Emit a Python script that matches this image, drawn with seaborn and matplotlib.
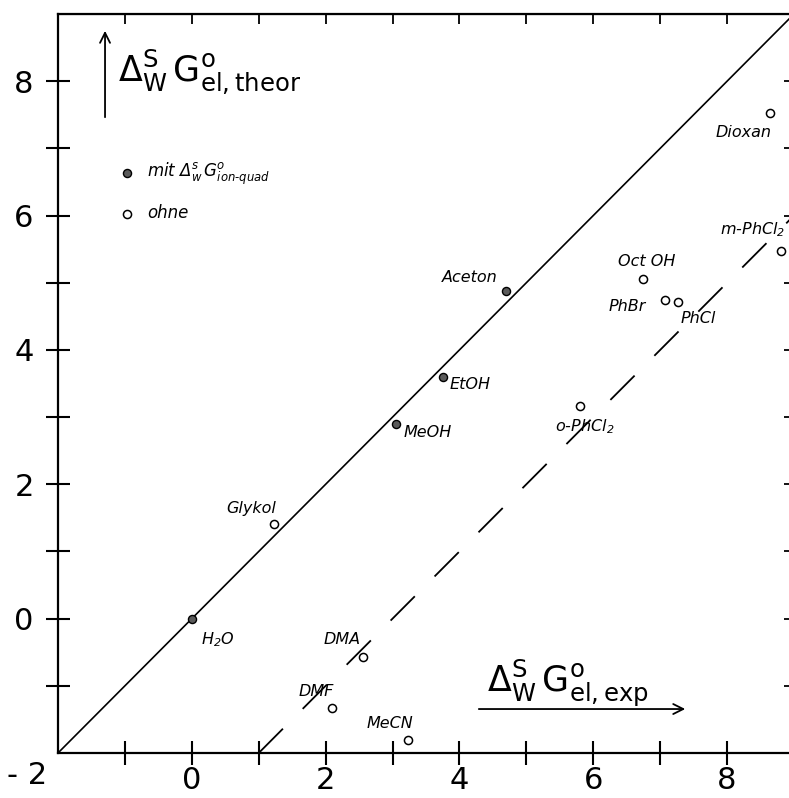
import numpy as np
import pandas as pd
import seaborn as sns
import matplotlib.pyplot as plt
from matplotlib.ticker import MultipleLocator, FixedLocator

# solvents and free energies (kJ/mol)
solvents = ["H$_2$O", "MeOH", "EtOH", "Aceton", "Glykol", "DMA", "DMF", "MeCN",
            "Dioxan", "Oct OH", "PhBr", "PhCl", "o-PhCl$_2$", "m-PhCl$_2$"]
g_exp = [0.0, 3.05, 3.75, 4.70, 1.23, 2.56, 2.10, 3.23,
         8.64, 6.74, 7.07, 7.27, 5.80, 8.81]
g_theor = [0.0, 2.89, 3.59, 4.87, 1.41, -0.57, -1.33, -1.81,
           7.52, 5.06, 4.75, 4.72, 3.16, 5.47]
group = ["mit"] * 4 + ["ohne"] * 10

# reference lines: ideal y = x and shifted y = x - 3
line_x = [-2, 9]
dash_x = [1, 9]
shift = 3

df = pd.DataFrame({"name": solvents, "exp": g_exp, "theor": g_theor, "group": group})

sns.set_style("ticks")
plt.rcParams["font.family"] = ["DejaVu Sans"]
plt.rcParams["mathtext.default"] = "regular"
plt.rcParams["text.color"] = "black"
plt.rcParams["xtick.color"] = "black"
plt.rcParams["ytick.color"] = "black"

fig = plt.figure(figsize=(7.89, 7.98), dpi=100)
ax = fig.add_axes([58 / 789, 45 / 798, 736 / 789, 739 / 798])

ax.plot(line_x, line_x, color="black", lw=1.2)
ax.plot(dash_x, [v - shift for v in dash_x], color="black", lw=1.3,
        linestyle=(0, (19, 15.5)))

sns.scatterplot(data=df[df.group == "mit"], x="exp", y="theor", ax=ax, s=34,
                color="#5a5a5a", edgecolor="black", linewidth=1, zorder=3,
                label="mit $\\Delta^s_w\\,G^o_{ion\u2010quad}$")
sns.scatterplot(data=df[df.group == "ohne"], x="exp", y="theor", ax=ax, s=34,
                color="white", edgecolor="black", linewidth=1.1, zorder=3,
                label="ohne")

# label offsets in pixels (dx, dy, ha)
offsets = {
    "H$_2$O": (9, -21, "left"),
    "MeOH": (8, -8, "left"),
    "EtOH": (7, -7, "left"),
    "Aceton": (-9, 14, "right"),
    "Glykol": (2, 15, "right"),
    "DMA": (-2, 17, "right"),
    "DMF": (2, 16, "right"),
    "MeCN": (5, 17, "right"),
    "Dioxan": (2, -19, "right"),
    "Oct OH": (4, 17, "center"),
    "PhBr": (-19, -7, "right"),
    "PhCl": (2, -17, "left"),
    "o-PhCl$_2$": (-25, -20, "left"),
    "m-PhCl$_2$": (-61, 22, "left"),
}
for name, x, y in zip(solvents, g_exp, g_theor):
    dx, dy, ha = offsets[name]
    ax.annotate(name, (x, y), xytext=(dx, dy), textcoords="offset pixels",
                ha=ha, va="center", fontsize=11.5, style="italic", color="black")

ax.set_xlim(-2, 9)
ax.set_ylim(-2, 9)
ax.xaxis.set_major_locator(FixedLocator([0, 2, 4, 6, 8]))
ax.xaxis.set_minor_locator(FixedLocator([-1, 1, 3, 5, 7]))
ax.yaxis.set_major_locator(FixedLocator([0, 2, 4, 6, 8]))
ax.yaxis.set_minor_locator(FixedLocator([-1, 1, 3, 5, 7]))
ax.tick_params(which="both", direction="inout", length=17, width=1.5,
               labelsize=22, colors="black")
ax.tick_params(axis="y", pad=9)
ax.tick_params(axis="x", pad=1)
ax.set_xlabel("")
ax.set_ylabel("")
for s in ax.spines.values():
    s.set_linewidth(1.6)
    s.set_color("black")

top = ax.secondary_xaxis("top")
top.xaxis.set_major_locator(MultipleLocator(1))
top.tick_params(direction="in", length=7, width=1.3, labeltop=False, colors="black")
right = ax.secondary_yaxis("right")
right.yaxis.set_major_locator(MultipleLocator(1))
right.tick_params(direction="in", length=7, width=1.3, labelright=False, colors="black")

# shared corner label
ax.annotate("- 2", (0, 0), xycoords="axes fraction", xytext=(-31, -22),
            textcoords="offset pixels", fontsize=22, ha="center", va="center")

# axis titles with arrows
ax.text(0.0815, 0.921, r"$\Delta^S_W\,G^o_{el,theor}$", transform=ax.transAxes,
        fontsize=25, ha="left", va="center")
ax.annotate("", xy=(0.0639, 0.981), xytext=(0.0639, 0.8566), xycoords="axes fraction",
            arrowprops=dict(arrowstyle="->", lw=1.3, color="black", mutation_scale=18))
ax.text(0.583, 0.0947, r"$\Delta^S_W\,G^o_{el,exp}$", transform=ax.transAxes,
        fontsize=25, ha="left", va="center")
ax.annotate("", xy=(0.856, 0.0595), xytext=(0.568, 0.0595), xycoords="axes fraction",
            arrowprops=dict(arrowstyle="->", lw=1.3, color="black", mutation_scale=18))

ax.legend(loc="upper left", bbox_to_anchor=(0.074, 0.81), frameon=False,
          prop={"style": "italic", "size": 12}, handlelength=1.0,
          handletextpad=0.7, labelspacing=1.0, borderaxespad=0)

fig.savefig("out.png", dpi=100)
